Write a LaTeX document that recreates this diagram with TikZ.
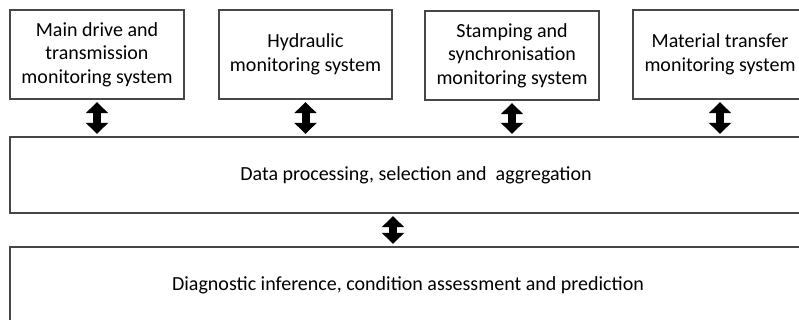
\documentclass[tikz,border=0pt]{standalone}
\usepackage{fontspec}
\setmainfont{Carlito}
\usetikzlibrary{arrows.meta,calc}
\begin{document}
\begin{tikzpicture}[x=1pt,y=-1pt,
  box/.style={draw=black!72,line width=1.4pt,rectangle,inner sep=0pt,align=center,
    font=\fontsize{20}{23.5}\selectfont},
  dbl/.style={line width=8pt,black,
    {Triangle[length=11pt,width=22pt]}-{Triangle[length=11pt,width=22pt]},
    shorten <=2.5pt, shorten >=2.5pt}]
\useasboundingbox (0,0) rectangle (799,320);
\clip (0,0) rectangle (799,320);
\node[box,minimum width=174pt,minimum height=89pt] (b1) at (97,54.5) {Main drive and\\transmission\\monitoring system};
\node[box,minimum width=173pt,minimum height=89pt] (b2) at (305.5,54.5) {Hydraulic\\monitoring system};
\node[box,minimum width=174pt,minimum height=89pt] (b3) at (512,55.5) {Stamping and\\synchronisation\\monitoring system};
\node[box,minimum width=174pt,minimum height=89pt] (b4) at (720,54.5) {Material transfer\\monitoring system};
\node[box,minimum width=812pt,minimum height=76pt] (mid) at (416,175) {Data processing, selection and\ \ aggregation};
\node[box,minimum width=796pt,minimum height=76pt] (bot) at (408,285) {Diagnostic inference, condition assessment and prediction};
\coordinate (ma) at (393,0);
\draw[dbl] (b1.south) -- (b1.south |- mid.north);
\draw[dbl] (b2.south) -- (b2.south |- mid.north);
\draw[dbl] (b3.south) -- (b3.south |- mid.north);
\draw[dbl] (b4.south) -- (b4.south |- mid.north);
\draw[dbl] (ma |- mid.south) -- (ma |- bot.north);
\end{tikzpicture}
\end{document}
